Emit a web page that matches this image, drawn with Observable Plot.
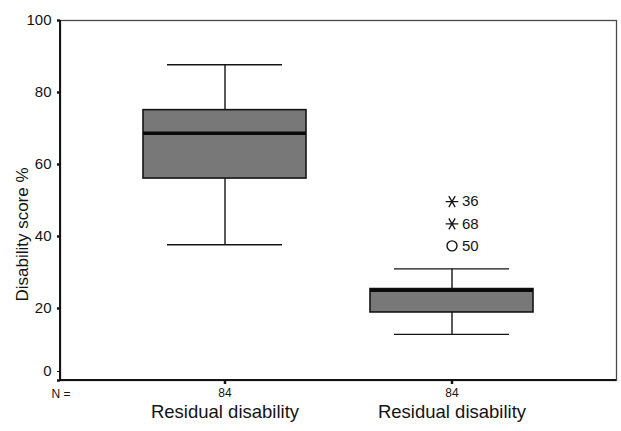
<!DOCTYPE html>
<html>
<head>
<meta charset="utf-8">
<script src="https://cdn.jsdelivr.net/npm/d3@7"></script>
<script src="https://cdn.jsdelivr.net/npm/@observablehq/plot@0.6"></script>
<style>
  html, body { margin: 0; padding: 0; background: #fff; }
  #chart svg { display: block; }
</style>
</head>
<body>
<div id="chart"></div>
<script>
// Box plot of disability scores, SPSS style
const groupIds = ["g1", "g2"];
const groupLabels = ["Residual disability", "Residual disability"];
const nCounts = [84, 84];
const lowerWhisker = [37.7, 12.8];
const q1 = [56.1, 18.9];
const median = [68.7, 25.1];
const q3 = [75.1, 25.4];
const upperWhisker = [87.7, 31.0];

// cases outside the whiskers of the second group
const outlierGroup = ["g2", "g2", "g2"];
const outlierCase = ["36", "68", "50"];
const outlierValue = [49.7, 43.5, 37.4];
const outlierKind = ["extreme", "extreme", "outlier"];

const yTicks = [20, 40, 60, 80, 100];
const yZeroTick = [0];

const boxes = groupIds.map((id, i) => ({
  id, label: groupLabels[i], n: nCounts[i],
  lo: lowerWhisker[i], q1: q1[i], med: median[i], q3: q3[i], hi: upperWhisker[i]
}));
const outliers = outlierCase.map((c, i) => ({
  id: outlierGroup[i], name: c, value: outlierValue[i], kind: outlierKind[i]
}));
const nById = new Map(boxes.map(d => [d.id, d.n]));

const ink = "#141414";

const chart = Plot.plot({
  width: 621,
  height: 431,
  marginLeft: 60,
  marginRight: 5,
  marginTop: 20,
  marginBottom: 51,
  style: { fontFamily: "Liberation Sans, Arial, sans-serif", color: ink, background: "#fff" },
  x: { type: "band", domain: groupIds, paddingInner: 0.2835, paddingOuter: 0.364 },
  y: { domain: [0, 100] },
  marks: [
    Plot.frame({ stroke: "#4a4a4a", strokeWidth: 1.3 }),
    // whiskers and caps
    Plot.ruleX(boxes, { x: "id", y1: "lo", y2: "q1", stroke: ink, strokeWidth: 1.4 }),
    Plot.ruleX(boxes, { x: "id", y1: "q3", y2: "hi", stroke: ink, strokeWidth: 1.4 }),
    Plot.tickY(boxes, { x: "id", y: "lo", stroke: ink, strokeWidth: 1.4, insetLeft: 24, insetRight: 24 }),
    Plot.tickY(boxes, { x: "id", y: "hi", stroke: ink, strokeWidth: 1.4, insetLeft: 24, insetRight: 24 }),
    // interquartile box and median
    Plot.barY(boxes, { x: "id", y1: "q1", y2: "q3", fill: "#787878", stroke: ink, strokeWidth: 1.6 }),
    Plot.tickY(boxes, { x: "id", y: "med", stroke: "#0a0a0a", strokeWidth: 3.5 }),
    // extreme values (asterisks) and outliers (circles)
    Plot.dot(outliers.filter(d => d.kind === "extreme"), {
      x: "id", y: "value", symbol: "asterisk", rotate: 90, r: 6, stroke: ink, strokeWidth: 1.3
    }),
    Plot.dot(outliers.filter(d => d.kind === "outlier"), {
      x: "id", y: "value", symbol: "circle", r: 5, stroke: ink, strokeWidth: 1.4, fill: "none"
    }),
    Plot.text(outliers, {
      x: "id", y: "value", text: "name", dx: 10, textAnchor: "start", fontSize: 15, fill: ink
    }),
    // axes
    Plot.axisY({
      ticks: yTicks, tickSize: 3, tickPadding: 6, fontSize: 15, strokeWidth: 2.5, label: null
    }),
    Plot.axisY({
      ticks: yZeroTick, tickSize: 3, strokeWidth: 2.5, text: null, label: null
    }),
    Plot.axisY({
      ticks: yZeroTick, tickSize: 3, tickPadding: 6, fontSize: 15, dy: -9, tick: null, label: null
    }),
    Plot.axisX({
      tickSize: 4, tickPadding: 4, fontSize: 12, strokeWidth: 2.5, label: null,
      tickFormat: d => nById.get(d)
    }),
    Plot.text(["N ="], { frameAnchor: "bottom-left", dy: 17, dx: -9, fontSize: 12, textAnchor: "start", fill: ink }),
    Plot.text(boxes, { x: "id", y: 0, text: "label", dy: 37, fontSize: 18.5, lineAnchor: "bottom", fill: ink }),
    Plot.text(["Disability score %"], {
      frameAnchor: "left", dx: -38, dy: 34, rotate: -90, fontSize: 17, textAnchor: "middle", fill: ink
    })
  ]
});

// heavier left and bottom axis lines over the frame
const svg = d3.select(chart);
svg.append("line").attr("x1", 60).attr("x2", 60).attr("y1", 20).attr("y2", 380)
  .attr("stroke", ink).attr("stroke-width", 2);
svg.append("line").attr("x1", 60).attr("x2", 616).attr("y1", 380).attr("y2", 380)
  .attr("stroke", ink).attr("stroke-width", 2);

document.getElementById("chart").appendChild(chart);
</script>
</body>
</html>
